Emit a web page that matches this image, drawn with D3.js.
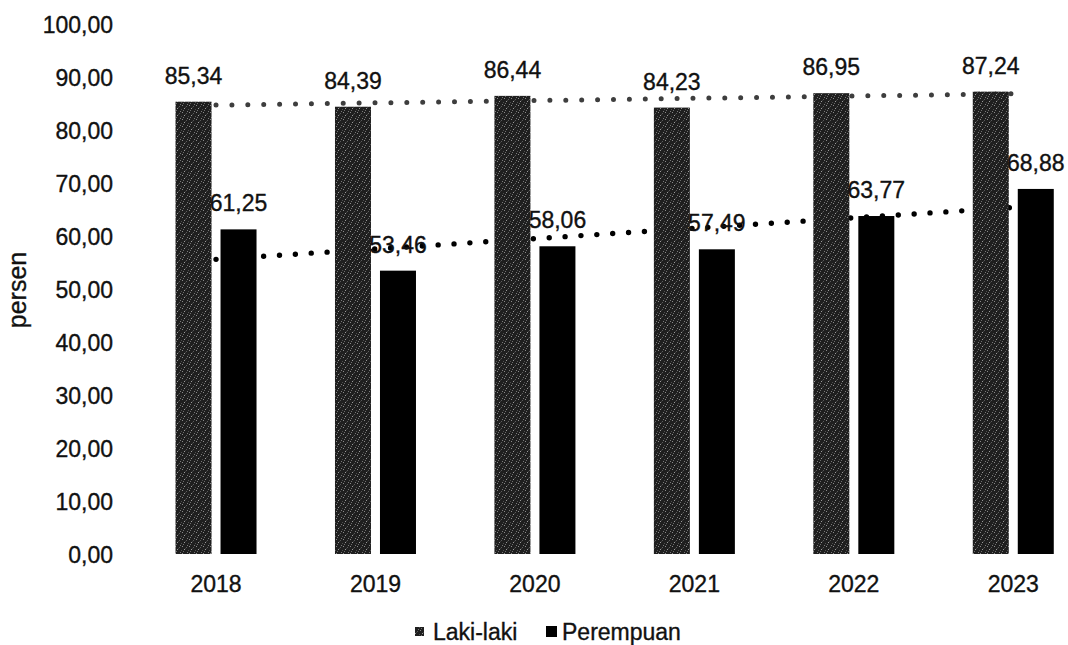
<!DOCTYPE html>
<html>
<head>
<meta charset="utf-8">
<script src="https://cdn.jsdelivr.net/npm/d3@7"></script>
<style>
  html, body { margin: 0; padding: 0; background: #fff; }
  svg { display: block; }
  text { font-family: "Liberation Sans", Arial, sans-serif; fill: #111; stroke: #111; stroke-width: 0.35px; }
</style>
</head>
<body>
<svg id="chart" width="1068" height="645"></svg>
<script>
const years = ["2018", "2019", "2020", "2021", "2022", "2023"];
const seriesNames = ["Laki-laki", "Perempuan"];
const lakiValues = [85.34, 84.39, 86.44, 84.23, 86.95, 87.24];
const perempuanValues = [61.25, 53.46, 58.06, 57.49, 63.77, 68.88];
const yTicks = [0, 10, 20, 30, 40, 50, 60, 70, 80, 90, 100];

const fmt = v => v.toFixed(2).replace(".", ",");

const svg = d3.select("#chart");
const plot = { left: 136.3, right: 1093, top: 24, bottom: 554 };

// Pattern for speckled grey bars
const defs = svg.append("defs");
const pat = defs.append("pattern")
  .attr("id", "speckle").attr("patternUnits", "userSpaceOnUse")
  .attr("width", 7).attr("height", 7);
pat.append("rect").attr("width", 7).attr("height", 7).attr("fill", "#1f1f1f");
[[0,0,"#8a8a8a"],[4,1,"#5a5a5a"],[2,3,"#9a9a9a"],[6,4,"#4e4e4e"],[1,5,"#6e6e6e"],[5,6,"#7a7a7a"],[3,2,"#3e3e3e"]].forEach(([x,yy,c]) => {
  pat.append("rect").attr("x", x).attr("y", yy).attr("width", 1).attr("height", 1).attr("fill", c);
});

const x0 = d3.scaleBand().domain(years).range([plot.left, plot.right]).paddingInner(0).paddingOuter(0);
const bw = x0.bandwidth();
const x1 = d3.scaleBand().domain(seriesNames).range([bw / 2 - 40.5, bw / 2 + 40.5]).paddingInner(0.2).paddingOuter(0);
const y = d3.scaleLinear().domain([0, 100]).range([plot.bottom, plot.top]);

const fills = { "Laki-laki": "url(#speckle)", "Perempuan": "#000" };
const data = { "Laki-laki": lakiValues, "Perempuan": perempuanValues };

// Linear trendlines (drawn behind bars)
function trend(vals) {
  const n = vals.length;
  const xs = vals.map((_, i) => i + 1);
  const mx = d3.mean(xs), my = d3.mean(vals);
  const slope = d3.sum(xs, (xv, i) => (xv - mx) * (vals[i] - my)) / d3.sum(xs, xv => (xv - mx) ** 2);
  const icpt = my - slope * mx;
  return [icpt + slope * 1, icpt + slope * n];
}
const trendStyle = { "Laki-laki": { color: "#3e3e3e", w: 5 }, "Perempuan": { color: "#000", w: 5.4 } };
seriesNames.forEach(s => {
  const [a, b] = trend(data[s]);
  svg.append("line")
    .attr("x1", x0(years[0]) + bw / 2).attr("y1", y(a))
    .attr("x2", x0(years[years.length - 1]) + bw / 2).attr("y2", y(b))
    .attr("stroke", trendStyle[s].color).attr("stroke-width", trendStyle[s].w)
    .attr("stroke-linecap", "round").attr("stroke-dasharray", "0 15.9");
});

// Bars
const g = svg.append("g");
years.forEach((yr, i) => {
  seriesNames.forEach(s => {
    const v = data[s][i];
    g.append("rect")
      .attr("x", x0(yr) + x1(s)).attr("width", x1.bandwidth())
      .attr("y", y(v)).attr("height", y(0) - y(v))
      .attr("fill", fills[s]);
  });
});

// Data labels
years.forEach((yr, i) => {
  seriesNames.forEach(s => {
    const v = data[s][i];
    svg.append("text")
      .attr("x", x0(yr) + x1(s) + x1.bandwidth() / 2)
      .attr("y", y(v) - 18)
      .attr("text-anchor", "middle").attr("font-size", 23)
      .text(fmt(v));
  });
});

// Y tick labels
yTicks.forEach(t => {
  svg.append("text")
    .attr("x", 113).attr("y", y(t) + 9)
    .attr("text-anchor", "end").attr("font-size", 23)
    .text(fmt(t));
});

// X labels
years.forEach(yr => {
  svg.append("text")
    .attr("x", x0(yr) + bw / 2).attr("y", 592)
    .attr("text-anchor", "middle").attr("font-size", 23)
    .text(yr);
});

// Y axis title
svg.append("text")
  .attr("transform", "translate(26,290) rotate(-90)")
  .attr("text-anchor", "middle").attr("font-size", 25)
  .text("persen");

// Legend
const legend = svg.append("g");
legend.append("rect").attr("x", 415).attr("y", 627).attr("width", 9).attr("height", 9).attr("fill", "url(#speckle)");
legend.append("text").attr("x", 433).attr("y", 640).attr("font-size", 23).text(seriesNames[0]);
legend.append("rect").attr("x", 546).attr("y", 626).attr("width", 11).attr("height", 11).attr("fill", "#000");
legend.append("text").attr("x", 562).attr("y", 640).attr("font-size", 23).text(seriesNames[1]);
</script>
</body>
</html>
